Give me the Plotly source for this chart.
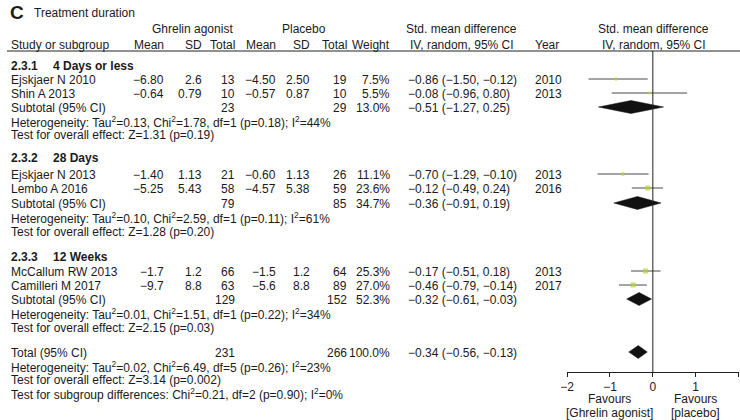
import plotly.graph_objects as go

# ---------------- data ----------------
groups = ["2.3.1", "2.3.2", "2.3.3"]
group_names = ["4 Days or less", "28 Days", "12 Weeks"]

studies = ["Ejskjaer N 2010", "Shin A 2013", "Ejskjaer N 2013", "Lembo A 2016",
           "McCallum RW 2013", "Camilleri M 2017"]
study_group = [0, 0, 1, 1, 2, 2]
g_mean = ["−6.80", "−0.64", "−1.40", "−5.25", "−1.7", "−9.7"]
g_sd = ["2.6", "0.79", "1.13", "5.43", "1.2", "8.8"]
g_total = [13, 10, 21, 58, 66, 63]
p_mean = ["−4.50", "−0.57", "−0.60", "−4.57", "−1.5", "−5.6"]
p_sd = ["2.50", "0.87", "1.13", "5.38", "1.2", "8.8"]
p_total = [19, 10, 26, 59, 64, 89]
weight = [7.5, 5.5, 11.1, 23.6, 25.3, 27.0]
smd = [-0.86, -0.08, -0.70, -0.12, -0.17, -0.46]
lo = [-1.50, -0.96, -1.29, -0.49, -0.51, -0.79]
hi = [-0.12, 0.80, -0.10, 0.24, 0.18, -0.14]
year = [2010, 2013, 2013, 2016, 2013, 2017]

sub_g_total = [23, 79, 129]
sub_p_total = [29, 85, 152]
sub_weight = [13.0, 34.7, 52.3]
sub_smd = [-0.51, -0.36, -0.32]
sub_lo = [-1.27, -0.91, -0.61]
sub_hi = [0.25, 0.19, -0.03]
sub_het = ["Heterogeneity: Tau<sup>2</sup>=0.13, Chi<sup>2</sup>=1.78, df=1 (p=0.18); I<sup>2</sup>=44%",
           "Heterogeneity: Tau<sup>2</sup>=0.10, Chi<sup>2</sup>=2.59, df=1 (p=0.11); I<sup>2</sup>=61%",
           "Heterogeneity: Tau<sup>2</sup>=0.01, Chi<sup>2</sup>=1.51, df=1 (p=0.22); I<sup>2</sup>=34%"]
sub_test = ["Test for overall effect: Z=1.31 (p=0.19)",
            "Test for overall effect: Z=1.28 (p=0.20)",
            "Test for overall effect: Z=2.15 (p=0.03)"]

tot_g, tot_p, tot_w = 231, 266, 100.0
tot_smd, tot_lo, tot_hi = -0.34, -0.56, -0.13
tot_het = "Heterogeneity: Tau<sup>2</sup>=0.02, Chi<sup>2</sup>=6.49, df=5 (p=0.26); I<sup>2</sup>=23%"
tot_test = "Test for overall effect: Z=3.14 (p=0.002)"
subgrp_test = "Test for subgroup differences: Chi<sup>2</sup>=0.21, df=2 (p=0.90); I<sup>2</sup>=0%"

x_ticks = [-2, -1, 0, 1, 2]

# ---------------- layout (pixel rows) ----------------
W, H = 740, 420
group_rows = [65, 157, 256]
study_rows = [79, 93, 174, 188, 271, 285]
sub_rows = [107, 203, 299]
het_rows = [121, 217, 313]
test_rows = [134, 231, 327]
tot_row, tot_het_row, tot_test_row, subgrp_row = 352, 366, 379, 393
axis_y = 372
hdr_line = 51
TEXT_DY = 1

FONT = "Liberation Sans, Arial, sans-serif"
TC = "#1a1a1a"
FS = 12

def fmt_ci(e, l, h):
    f = lambda v: f"{v:.2f}".replace("-", "−")
    return f"{f(e)} ({f(l)}, {f(h)})"

ann = []
def T(x, y, s, anchor="left", size=FS, bold=False):
    if bold:
        s = f"<b>{s}</b>"
    ann.append(dict(x=x, y=y + TEXT_DY, xref="x2", yref="y", text=s, showarrow=False,
                    xanchor=anchor, yanchor="middle", font=dict(size=size, color=TC, family=FONT)))

# title
T(1, 11, "C", size=19, bold=True)
T(25, 12, "Treatment duration")
# headers
T(187, 28, "Ghrelin agonist", "center")
T(300, 28, "Placebo", "center")
T(459, 28, "Std. mean difference", "center")
T(653, 28, "Std. mean difference", "center")
T(2, 44, "Study or subgroup")
for xr, s in [(161, "Mean"), (199, "SD"), (232, "Total"), (274, "Mean"), (308, "SD"), (345, "Total"), (389, "Weight")]:
    T(xr, 44, s, "right")
T(459, 44, "IV, random, 95% CI", "center")
T(531, 44, "Year")
T(653, 44, "IV, random, 95% CI", "center")

col_x = dict(gm=161, gs=199, gt=232, pm=274, ps=308, pt=345, w=389, ci=403, yr=531)

for g in range(3):
    T(2, group_rows[g], groups[g], bold=True)
    T(44, group_rows[g], group_names[g], bold=True)
for i in range(len(studies)):
    y = study_rows[i]
    T(2, y, studies[i])
    T(col_x["gm"], y, g_mean[i], "right")
    T(col_x["gs"], y, g_sd[i], "right")
    T(col_x["gt"], y, str(g_total[i]), "right")
    T(col_x["pm"], y, p_mean[i], "right")
    T(col_x["ps"], y, p_sd[i], "right")
    T(col_x["pt"], y, str(p_total[i]), "right")
    T(col_x["w"], y, f"{weight[i]:.1f}%", "right")
    T(col_x["ci"], y, fmt_ci(smd[i], lo[i], hi[i]))
    T(col_x["yr"], y, str(year[i]))
for g in range(3):
    y = sub_rows[g]
    T(2, y, "Subtotal (95% CI)")
    T(col_x["gt"], y, str(sub_g_total[g]), "right")
    T(col_x["pt"], y, str(sub_p_total[g]), "right")
    T(col_x["w"], y, f"{sub_weight[g]:.1f}%", "right")
    T(col_x["ci"], y, fmt_ci(sub_smd[g], sub_lo[g], sub_hi[g]))
    T(2, het_rows[g], sub_het[g])
    T(2, test_rows[g], sub_test[g])
T(2, tot_row, "Total (95% CI)")
T(col_x["gt"], tot_row, str(tot_g), "right")
T(col_x["pt"], tot_row, str(tot_p), "right")
T(col_x["w"], tot_row, f"{tot_w:.1f}%", "right")
T(col_x["ci"], tot_row, fmt_ci(tot_smd, tot_lo, tot_hi))
T(2, tot_het_row, tot_het)
T(2, tot_test_row, tot_test)
T(2, subgrp_row, subgrp_test)

# favours labels (data coords on forest axis)
for xv, l1, l2 in [(-1, "Favours", "[Ghrelin agonist]"), (1, "Favours", "[placebo]")]:
    for yy, s in [(399, l1), (413, l2)]:
        ann.append(dict(x=xv, y=yy, xref="x", yref="y", text=s, showarrow=False,
                        xanchor="center", yanchor="middle", font=dict(size=FS, color=TC, family=FONT)))

fig = go.Figure()

# CI lines
lx, ly = [], []
for i in range(len(studies)):
    lx += [lo[i], hi[i], None]
    ly += [study_rows[i], study_rows[i], None]
fig.add_trace(go.Scatter(x=lx, y=ly, mode="lines", line=dict(color="#4a4a4a", width=1),
                         hoverinfo="skip", showlegend=False))
# squares
fig.add_trace(go.Scatter(x=smd, y=study_rows, mode="markers",
                         marker=dict(symbol="square", color="#b3d335", size=[2 + w * 0.12 for w in weight],
                                     line=dict(width=0)),
                         showlegend=False))
# diamonds
dh = 6.5
for e, l, h, y in list(zip(sub_smd, sub_lo, sub_hi, sub_rows)) + [(tot_smd, tot_lo, tot_hi, tot_row)]:
    fig.add_trace(go.Scatter(x=[l, e, h, e, l], y=[y, y - dh, y, y + dh, y], mode="lines",
                             fill="toself", fillcolor="#111111", line=dict(color="#111111", width=0.5),
                             showlegend=False, hoverinfo="skip"))

fig.update_layout(
    width=W, height=H, margin=dict(l=0, r=0, t=0, b=0),
    paper_bgcolor="white", plot_bgcolor="rgba(0,0,0,0)",
    font=dict(family=FONT, size=FS, color=TC),
    annotations=ann,
    xaxis=dict(domain=[565.5 / W, 738.5 / W], range=[-2, 2], anchor="free",
               position=(H - axis_y) / H, tickvals=x_ticks,
               ticktext=[str(v).replace("-", "−") for v in x_ticks],
               showline=True, linecolor="#222", linewidth=1, ticks="outside", ticklen=4,
               tickcolor="#222", showgrid=False, zeroline=False,
               tickfont=dict(size=FS, color=TC, family=FONT)),
    xaxis2=dict(domain=[0, 1], range=[0, W], visible=False, anchor="y"),
    yaxis=dict(domain=[0, 1], range=[H, 0], visible=False),
    shapes=[
        dict(type="line", xref="paper", yref="y", x0=0, x1=1, y0=hdr_line, y1=hdr_line,
             line=dict(color="#222", width=1)),
        dict(type="line", xref="x", yref="y", x0=0, x1=0, y0=hdr_line, y1=axis_y,
             line=dict(color="#222", width=1)),
    ],
)

fig.write_html("out.html", config={"displayModeBar": False},
               post_script="document.body.style.margin='0';document.body.style.overflow='hidden';")
